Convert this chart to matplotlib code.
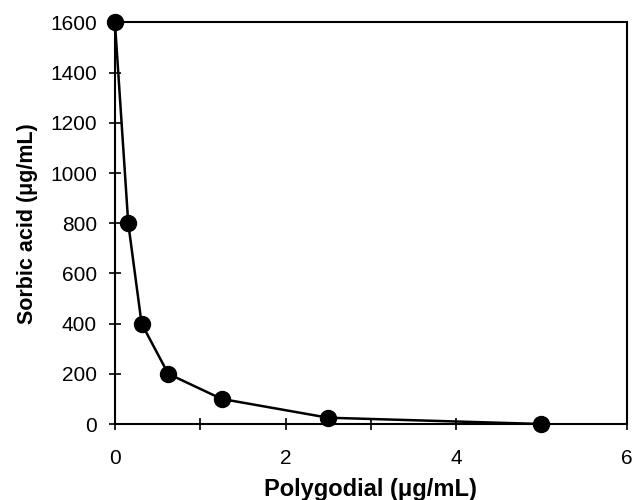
import matplotlib
matplotlib.use('Agg')
import matplotlib.pyplot as plt
from matplotlib.ticker import MultipleLocator

# Data
polygodial = [0, 0.156, 0.3125, 0.625, 1.25, 2.5, 5.0]
sorbic_acid = [1600, 800, 400, 200, 100, 25, 0]

plt.rcParams['font.family'] = ['Liberation Sans', 'DejaVu Sans']

fig = plt.figure(figsize=(6.35, 5.0), dpi=100)
ax = fig.add_axes([0.181, 0.152, 0.806, 0.803])

ax.plot(polygodial, sorbic_acid, '-o', color='black', linewidth=1.8,
        markersize=11.5, clip_on=False, zorder=3)

ax.set_xlim(0, 6)
ax.set_ylim(0, 1600)
ax.xaxis.set_major_locator(MultipleLocator(2))
ax.xaxis.set_minor_locator(MultipleLocator(1))
ax.yaxis.set_major_locator(MultipleLocator(200))

ax.tick_params(axis='both', which='both', direction='inout', width=1.2,
               labelsize=15, colors='black')
ax.tick_params(axis='both', which='major', length=8)
ax.tick_params(axis='x', which='minor', length=8)
ax.tick_params(axis='x', pad=14)
ax.tick_params(axis='y', pad=9)

for s in ax.spines.values():
    s.set_linewidth(1.5)

ax.set_xlabel('Polygodial (μg/mL)', fontsize=17, fontweight='bold', labelpad=7)
ax.set_ylabel('Sorbic acid (μg/mL)', fontsize=15.5, fontweight='bold', labelpad=9)

fig.savefig('out.png', dpi=100)
